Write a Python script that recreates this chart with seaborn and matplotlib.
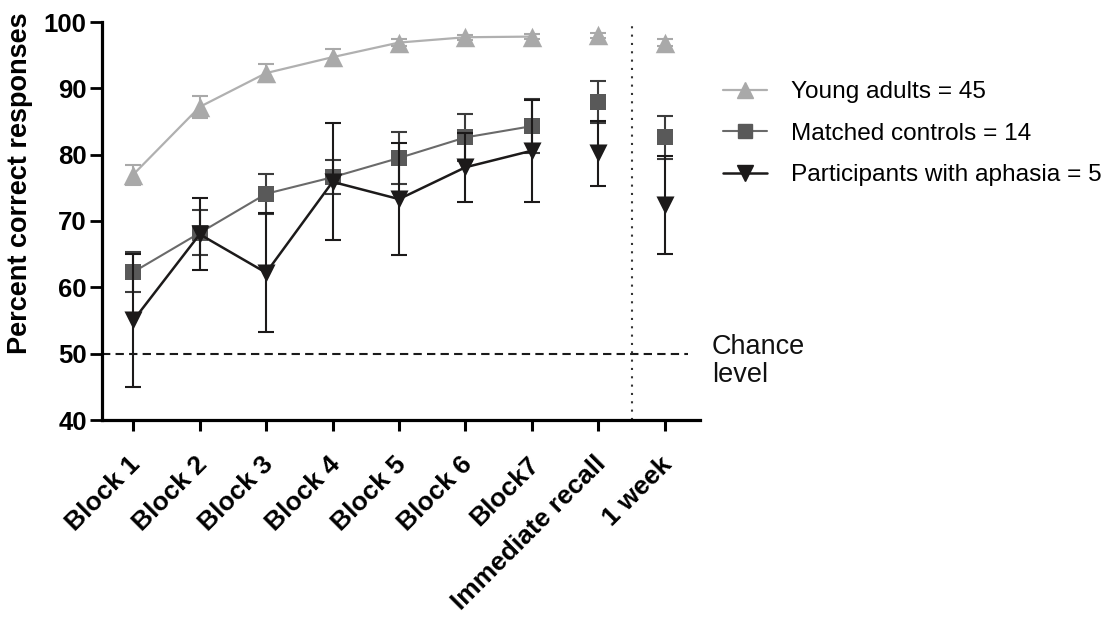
import numpy as np
import pandas as pd
import matplotlib
matplotlib.use("Agg")
import matplotlib.pyplot as plt
from matplotlib.lines import Line2D
from matplotlib.transforms import ScaledTranslation
import seaborn as sns

# ---------------- data ----------------
categories = ["Block 1", "Block 2", "Block 3", "Block 4", "Block 5", "Block 6",
              "Block7", "Immediate recall", "1 week"]
n_learning_blocks = 7

young_mean = [77.0, 87.2, 92.3, 94.7, 96.9, 97.7, 97.8, 98.0, 96.9]
young_se = [1.5, 1.6, 1.4, 1.3, 0.5, 0.4, 0.4, 0.4, 0.5]

control_mean = [62.3, 68.2, 74.1, 76.6, 79.5, 82.6, 84.3, 87.9, 82.6]
control_se = [3.0, 3.4, 3.0, 2.6, 3.9, 3.6, 4.1, 3.2, 3.2]

aphasia_mean = [55.0, 68.0, 62.2, 75.9, 73.3, 78.1, 80.6, 80.2, 72.4]
aphasia_se = [10.0, 5.4, 9.0, 8.8, 8.5, 5.2, 7.7, 4.9, 7.4]

legend_labels = ["Young adults = 45", "Matched controls = 14",
                 "Participants with aphasia = 5"]
yticks = [40, 50, 60, 70, 80, 90, 100]
chance_level = 50

# ---------------- style ----------------
sns.set_theme(style="white")
plt.rcParams["font.family"] = ["Liberation Sans", "DejaVu Sans"]
plt.rcParams["text.color"] = "black"
plt.rcParams["axes.labelcolor"] = "black"
plt.rcParams["xtick.color"] = "black"
plt.rcParams["ytick.color"] = "black"

W, H = 1116, 617
fig = plt.figure(figsize=(W / 100, H / 100), dpi=100)
ax = fig.add_axes([102 / W, (H - 420) / H, 598 / W, 398 / H])

pos = np.arange(len(categories))

groups = [
    # label, mean, se, marker, ms, marker colour, line colour, err colour, lw, z
    (legend_labels[0], young_mean, young_se, "^", 14, "#a9a9a9", "#b0b0b0", "#a9a9a9", 1.6, 2),
    (legend_labels[1], control_mean, control_se, "s", 12, "#595959", "#6a6a6a", "#3c3c3c", 1.5, 3),
    (legend_labels[2], aphasia_mean, aphasia_se, "v", 13, "#1c1a1a", "#1c1a1a", "#1c1a1a", 1.8, 4),
]

for label, mean, se, marker, ms, mcol, lcol, ecol, lw, z in groups:
    df = pd.DataFrame({"pos": pos[:n_learning_blocks],
                       "val": mean[:n_learning_blocks]})
    sns.lineplot(data=df, x="pos", y="val", color=lcol, linewidth=lw,
                 ax=ax, zorder=z, legend=False)
    ax.errorbar(pos, mean, yerr=se, fmt="none", ecolor=ecol, elinewidth=1.5,
                capsize=6, capthick=1.5, zorder=z)
    dfp = pd.DataFrame({"pos": pos, "val": mean})
    sns.scatterplot(data=dfp, x="pos", y="val", marker=marker, s=ms ** 2,
                    color=mcol, edgecolor=mcol, linewidth=0, ax=ax,
                    zorder=z + 0.5, legend=False)

# chance level and separator
ax.plot([-0.47, 8.35], [chance_level, chance_level], color="#1a1a1a",
        lw=1.5, ls=(0, (4, 2.5)), zorder=1)
ax.axvline(7.5, color="#333333", lw=1.5, ls=(0, (1, 3)), zorder=1)
fig.text(712 / W, 1 - 334 / H, "Chance\nlevel", fontsize=19.5, va="top",
         ha="left", color="#111111", linespacing=1.1)

# axes
ax.set_xlim(-0.47, 8.53)
ax.set_ylim(40, 100)
ax.set_yticks(yticks)
ax.set_xticks(pos)
ax.set_xticklabels(categories, rotation=45, ha="right", va="top",
                   rotation_mode="anchor", fontsize=19, fontweight="bold")
ax.set_yticklabels([str(t) for t in yticks], fontsize=18.5, fontweight="bold")
ax.set_xlabel("")
ax.set_ylabel("Percent correct responses", fontsize=19.5, fontweight="bold")
ax.yaxis.set_label_coords(-0.115, 0.595)

for side in ["top", "right"]:
    ax.spines[side].set_visible(False)
for side in ["left", "bottom"]:
    ax.spines[side].set_linewidth(2.3)
    ax.spines[side].set_color("black")
ax.tick_params(axis="y", direction="out", length=9, width=2, pad=2,
               left=True, colors="black")
ax.tick_params(axis="x", direction="out", length=8, width=2.2, pad=15,
               bottom=True, colors="black")
shift = ScaledTranslation(-5 / 100, 0, fig.dpi_scale_trans)
for lab in ax.get_xticklabels():
    lab.set_transform(lab.get_transform() + shift)

# legend
handles = []
for label, mean, se, marker, ms, mcol, lcol, ecol, lw, z in groups:
    handles.append(Line2D([0], [0], color=lcol, lw=lw, marker=marker,
                          markersize=ms * 0.85, markerfacecolor=mcol,
                          markeredgecolor=mcol))
fig.legend(handles, legend_labels, loc="upper left",
           bbox_to_anchor=(723 / W, 1 - 81 / H), frameon=False,
           fontsize=17.6, handlelength=1.82, handletextpad=0.97,
           labelspacing=0.8, borderpad=0, borderaxespad=0)

fig.savefig("out.png", dpi=100)
